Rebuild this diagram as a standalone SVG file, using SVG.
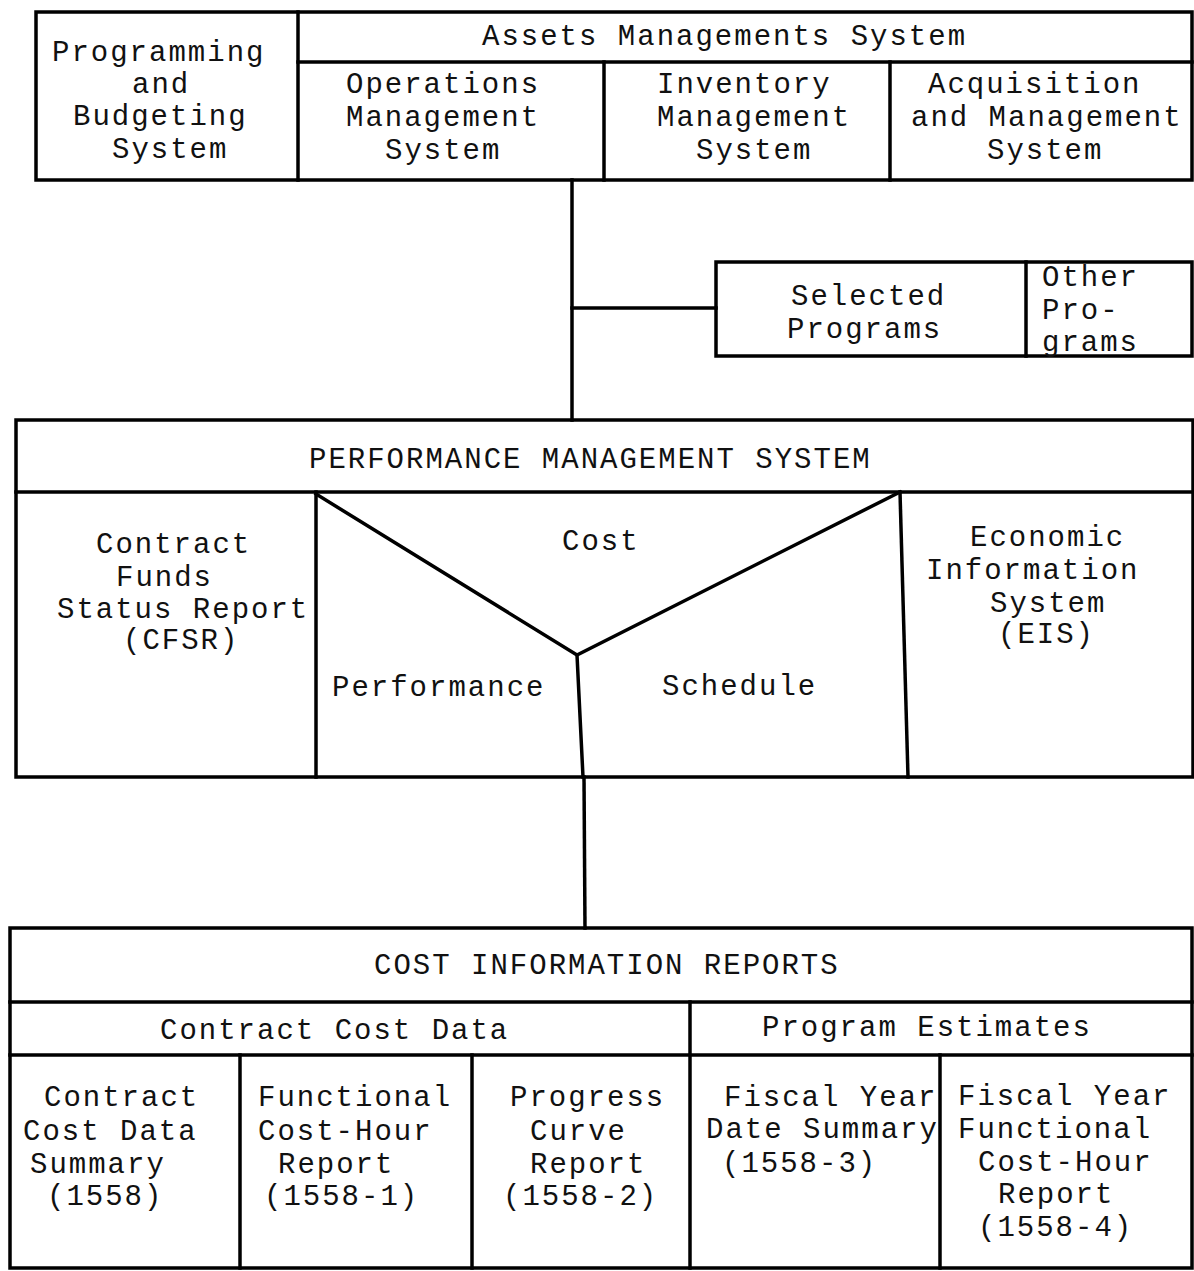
<svg xmlns="http://www.w3.org/2000/svg" width="1194" height="1271" viewBox="0 0 1194 1271">
<style>
.b{fill:none;stroke:#000;stroke-width:3.5;stroke-linecap:square}
.t{font-family:"Liberation Mono","Courier New",monospace;font-size:29px;letter-spacing:2px;fill:#111}
</style>
<rect width="1194" height="1271" fill="#fff"/>
<g id="top-systems">
<rect class="b" x="36" y="12" width="1156" height="168"/>
<line class="b" x1="298" y1="62" x2="1192" y2="62"/>
<line class="b" x1="298" y1="12" x2="298" y2="180"/>
<line class="b" x1="604" y1="62" x2="604" y2="180"/>
<line class="b" x1="890" y1="62" x2="890" y2="180"/>
<text class="t" x="52" y="61">Programming</text>
<text class="t" x="132" y="93">and</text>
<text class="t" x="73" y="125">Budgeting</text>
<text class="t" x="112" y="158">System</text>
<text class="t" x="482" y="45">Assets Managements System</text>
<text class="t" x="346" y="93">Operations</text>
<text class="t" x="346" y="126">Management</text>
<text class="t" x="385" y="159">System</text>
<text class="t" x="657" y="93">Inventory</text>
<text class="t" x="657" y="126">Management</text>
<text class="t" x="696" y="159">System</text>
<text class="t" x="928" y="93">Acquisition</text>
<text class="t" x="911" y="126">and Management</text>
<text class="t" x="987" y="159">System</text>
</g>
<g id="programs">
<rect class="b" x="716" y="262" width="476" height="94"/>
<line class="b" x1="1026" y1="262" x2="1026" y2="356"/>
<text class="t" x="791" y="305">Selected</text>
<text class="t" x="787" y="338">Programs</text>
<text class="t" x="1042" y="286">Other</text>
<text class="t" x="1042" y="319">Pro-</text>
<text class="t" x="1042" y="351">grams</text>
</g>
<g id="pms">
<rect class="b" x="16" y="420" width="1177" height="357"/>
<line class="b" x1="16" y1="492" x2="1193" y2="492"/>
<line class="b" x1="316" y1="492" x2="316" y2="777"/>
<line class="b" x1="900" y1="492" x2="908" y2="777"/>
<polyline class="b" points="316,494 577,655 900,492"/>
<line class="b" x1="577" y1="655" x2="583" y2="777"/>
<text class="t" x="309" y="468">PERFORMANCE MANAGEMENT SYSTEM</text>
<text class="t" x="96" y="553">Contract</text>
<text class="t" x="116" y="586">Funds</text>
<text class="t" x="57" y="618">Status Report</text>
<text class="t" x="123" y="649">(CFSR)</text>
<text class="t" x="562" y="550">Cost</text>
<text class="t" x="332" y="696">Performance</text>
<text class="t" x="662" y="695">Schedule</text>
<text class="t" x="970" y="546">Economic</text>
<text class="t" x="926" y="579">Information</text>
<text class="t" x="990" y="612">System</text>
<text class="t" x="998" y="643">(EIS)</text>
</g>
<g id="cir">
<rect class="b" x="10" y="928" width="1182" height="340"/>
<line class="b" x1="10" y1="1002" x2="1192" y2="1002"/>
<line class="b" x1="10" y1="1055" x2="1192" y2="1055"/>
<line class="b" x1="690" y1="1002" x2="690" y2="1268"/>
<line class="b" x1="240" y1="1055" x2="240" y2="1268"/>
<line class="b" x1="472" y1="1055" x2="472" y2="1268"/>
<line class="b" x1="940" y1="1055" x2="940" y2="1268"/>
<text class="t" x="374" y="974">COST INFORMATION REPORTS</text>
<text class="t" x="160" y="1039">Contract Cost Data</text>
<text class="t" x="762" y="1036">Program Estimates</text>
<text class="t" x="44" y="1106">Contract</text>
<text class="t" x="23" y="1140">Cost Data</text>
<text class="t" x="30" y="1173">Summary</text>
<text class="t" x="47" y="1205">(1558)</text>
<text class="t" x="258" y="1106">Functional</text>
<text class="t" x="258" y="1140">Cost-Hour</text>
<text class="t" x="278" y="1173">Report</text>
<text class="t" x="264" y="1205">(1558-1)</text>
<text class="t" x="510" y="1106">Progress</text>
<text class="t" x="530" y="1140">Curve</text>
<text class="t" x="530" y="1173">Report</text>
<text class="t" x="503" y="1205">(1558-2)</text>
<text class="t" x="724" y="1106">Fiscal Year</text>
<text class="t" x="706" y="1138">Date Summary</text>
<text class="t" x="722" y="1172">(1558-3)</text>
<text class="t" x="958" y="1105">Fiscal Year</text>
<text class="t" x="958" y="1138">Functional</text>
<text class="t" x="978" y="1171">Cost-Hour</text>
<text class="t" x="998" y="1203">Report</text>
<text class="t" x="978" y="1236">(1558-4)</text>
</g>
<g id="connectors">
<line class="b" x1="572" y1="180" x2="572" y2="420"/>
<line class="b" x1="572" y1="308" x2="716" y2="308"/>
<line class="b" x1="584" y1="777" x2="585" y2="928"/>
</g>
</svg>
